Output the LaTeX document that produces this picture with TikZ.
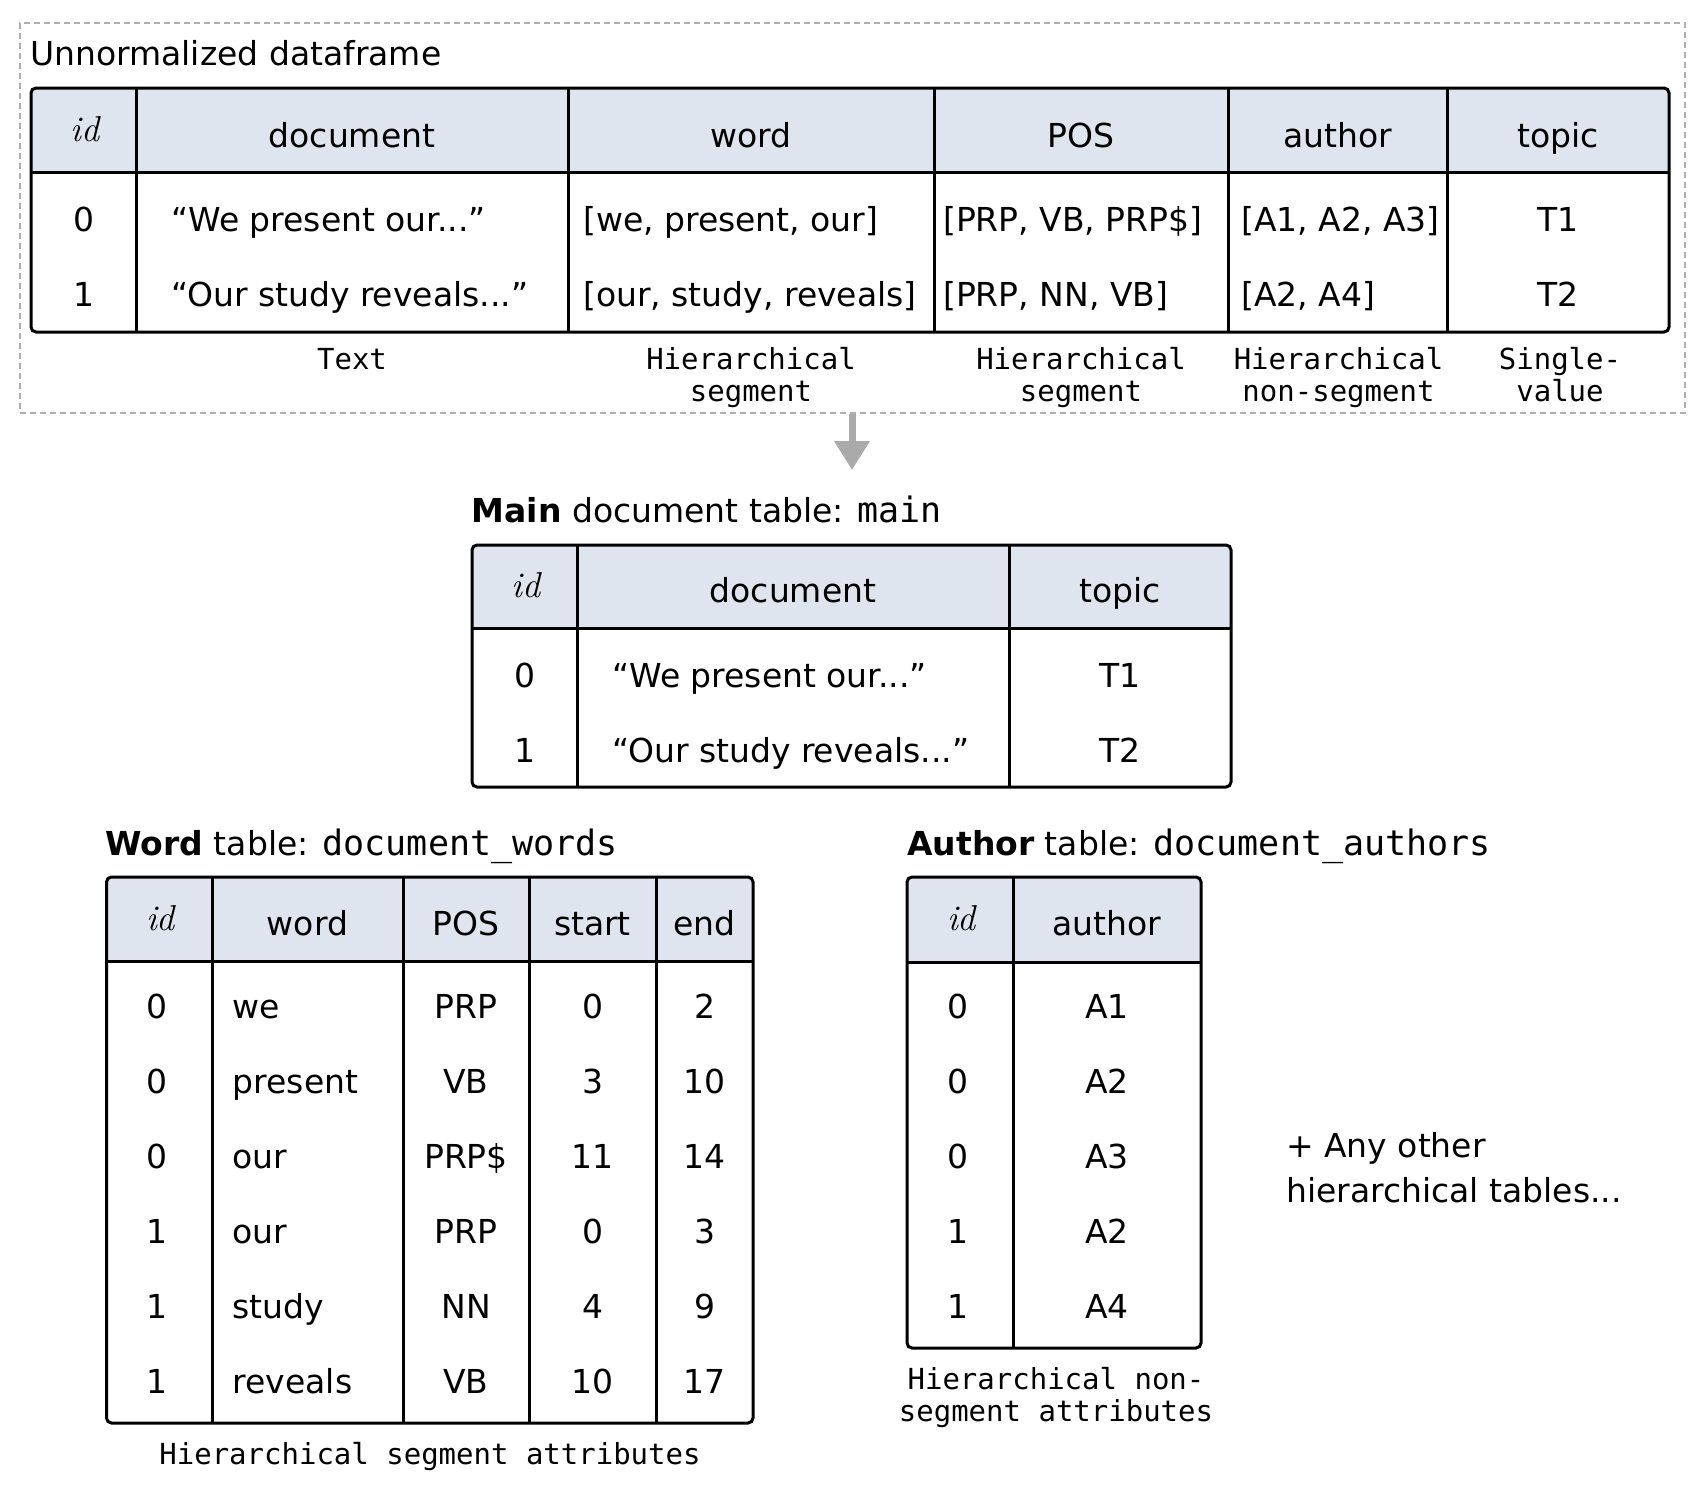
\documentclass[tikz,border=0pt]{standalone}
\usepackage{fontspec}
\setsansfont{DejaVu Sans}
\setmonofont{DejaVu Sans Mono}
\usetikzlibrary{arrows.meta}
\definecolor{hdrfill}{RGB}{222,229,238}
\definecolor{framegray}{RGB}{175,175,175}
\definecolor{arrowgray}{RGB}{170,170,170}
\newcommand\mytable[6]{%
  \begin{scope}
    \clip[rounded corners=5pt] (#1,#2) rectangle (#3,#4);
    \fill[hdrfill] (#1,#2) rectangle (#3,#5);
  \end{scope}
  \draw[tline] (#1,#5) -- (#3,#5);
  \foreach \cx in {#6} \draw[tline] (\cx,#2) -- (\cx,#4);
  \draw[tline,rounded corners=5pt] (#1,#2) rectangle (#3,#4);
}
\tikzset{
  tline/.style={line width=3pt,black},
  txt/.style={font=\sffamily\fontsize{33}{40}\selectfont,inner sep=0pt,anchor=base},
  txtl/.style={txt,anchor=base west},
  idtxt/.style={font=\rmfamily\itshape\fontsize{36}{40}\selectfont,inner sep=0pt,anchor=base},
  captxt/.style={font=\ttfamily\fontsize{29}{32}\selectfont,inner sep=0pt,anchor=base},
  ttl/.style={font=\sffamily\fontsize{33}{40}\selectfont,inner sep=0pt,anchor=base west},
}
\begin{document}
\begin{tikzpicture}[x=1pt,y=-1pt]
\useasboundingbox (0,0) rectangle (1704,1491);
\fill[white] (0,0) rectangle (1704,1491);

% ---------- Unnormalized frame ----------
\node[draw=framegray,line width=2pt,dash pattern=on 6pt off 4pt,
      minimum width=1665pt,minimum height=390pt,inner sep=0pt,anchor=north west]
      (frame) at (19,22) {};
\node[ttl] (ttlA) at (30,65) {Unnormalized dataframe};

\mytable{31}{88}{1669}{332}{172}{136,568,934,1228,1447}
% header
\node[idtxt] (a-h0) at (85,141) {id};
\node[txt] (a-h1) at (352,147) {document};
\node[txt] (a-h2) at (751,147) {word};
\node[txt] (a-h3) at (1081,147) {POS};
\node[txt] (a-h4) at (1337.5,147) {author};
\node[txt] (a-h5) at (1558,147) {topic};
% rows
\node[txt]  (a-r0c0) at (83.5,231) {0};
\node[txtl] (a-r0c1) at (171,231) {“We present our...”};
\node[txtl] (a-r0c2) at (583,231) {[we, present, our]};
\node[txtl] (a-r0c3) at (943,231) {[PRP, VB, PRP\$]};
\node[txtl] (a-r0c4) at (1241,231) {[A1, A2, A3]};
\node[txt]  (a-r0c5) at (1558,231) {T1};
\node[txt]  (a-r1c0) at (83.5,306) {1};
\node[txtl] (a-r1c1) at (171,306) {“Our study reveals...”};
\node[txtl] (a-r1c2) at (583,306) {[our, study, reveals]};
\node[txtl] (a-r1c3) at (943,306) {[PRP, NN, VB]};
\node[txtl] (a-r1c4) at (1241,306) {[A2, A4]};
\node[txt]  (a-r1c5) at (1558,306) {T2};
% captions
\node[captxt] (capText) at (352,369) {Text};
\node[captxt] (capW1) at (751,369) {Hierarchical};
\node[captxt] (capW2) at (751,401) {segment};
\node[captxt] (capP1) at (1081,369) {Hierarchical};
\node[captxt] (capP2) at (1081,401) {segment};
\node[captxt] (capA1) at (1338.5,369) {Hierarchical};
\node[captxt] (capA2) at (1338.5,401) {non-segment};
\node[captxt] (capT1) at (1560,369) {Single-};
\node[captxt] (capT2) at (1560,401) {value};

% ---------- arrow ----------
\coordinate (arrEnd) at (852,470);
\draw[arrowgray,line width=7pt,-{Triangle[length=29pt,width=34pt]}]
  (frame.south -| arrEnd) -- (arrEnd);

% ---------- Main table ----------
\node[ttl] (ttlM) at (471.5,522) {\textbf{Main} document table: {\ttfamily\fontsize{35}{40}\selectfont main}};
\mytable{472}{545}{1231}{787}{628}{577,1009.5}
\node[idtxt] (m-h0) at (526,597) {id};
\node[txt] (m-h1) at (793,602) {document};
\node[txt] (m-h2) at (1120,602) {topic};
\node[txt]  (m-r0c0) at (524.5,687) {0};
\node[txtl] (m-r0c1) at (612,687) {“We present our...”};
\node[txt]  (m-r0c2) at (1120,687) {T1};
\node[txt]  (m-r1c0) at (524.5,762) {1};
\node[txtl] (m-r1c1) at (612,762) {“Our study reveals...”};
\node[txt]  (m-r1c2) at (1120,762) {T2};

% ---------- Word table ----------
\node[ttl] (ttlW) at (105.5,855) {\textbf{Word} table: {\ttfamily\fontsize{35}{40}\selectfont document\_words}};
\mytable{106.5}{877}{753}{1423}{961}{212,403,529,656}
\node[idtxt] (w-h0) at (160.5,930) {id};
\node[txt] (w-h1) at (307.5,935) {word};
\node[txt] (w-h2) at (466,935) {POS};
\node[txt] (w-h3) at (592.5,935) {start};
\node[txt] (w-h4) at (704.5,935) {end};
\foreach \i/\id/\w/\p/\s/\e in {0/0/we/PRP/0/2,1/0/present/VB/3/10,2/0/our/PRP\$/11/14,
    3/1/our/PRP/0/3,4/1/study/NN/4/9,5/1/reveals/VB/10/17}{
  \node[txt]  (w-r\i c0) at (157,1018+75*\i) {\id};
  \node[txtl] (w-r\i c1) at (232.5,1018+75*\i) {\w};
  \node[txt]  (w-r\i c2) at (466,1018+75*\i) {\p};
  \node[txt]  (w-r\i c3) at (592.5,1018+75*\i) {\s};
  \node[txt]  (w-r\i c4) at (704.5,1018+75*\i) {\e};
}
\node[captxt] (capWT) at (430,1464) {Hierarchical segment attributes};

% ---------- Author table ----------
\node[ttl] (ttlAu) at (907,855) {\textbf{Author} table: {\ttfamily\fontsize{35}{40}\selectfont document\_authors}};
\mytable{907}{877}{1201}{1348}{962}{1013}
\node[idtxt] (u-h0) at (961.5,930) {id};
\node[txt] (u-h1) at (1107,935) {author};
\foreach \i/\id/\au in {0/0/A1,1/0/A2,2/0/A3,3/1/A2,4/1/A4}{
  \node[txt] (u-r\i c0) at (958,1018+75*\i) {\id};
  \node[txt] (u-r\i c1) at (1107,1018+75*\i) {\au};
}
\node[captxt] (capAT1) at (1056,1389) {Hierarchical non-};
\node[captxt] (capAT2) at (1056,1421) {segment attributes};

% ---------- other ----------
\node[ttl] (other1) at (1286,1157) {+ Any other};
\node[ttl] (other2) at (1286,1202) {hierarchical tables...};
\end{tikzpicture}
\end{document}
